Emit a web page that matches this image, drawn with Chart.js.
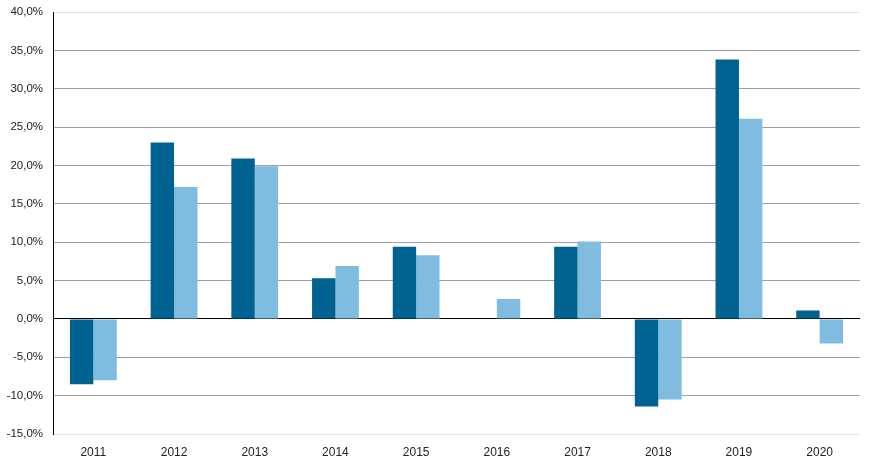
<!DOCTYPE html>
<html>
<head>
<meta charset="utf-8">
<script src="https://cdn.jsdelivr.net/npm/chart.js@4"></script>
<style>
html,body{margin:0;padding:0;background:#fff;}
#wrap{width:871px;height:463px;position:relative;}
</style>
</head>
<body>
<div id="wrap"><canvas id="c"></canvas></div>
<script>
const categories = ['2011','2012','2013','2014','2015','2016','2017','2018','2019','2020'];
const seriesA = [-8.5, 23.0, 20.9, 5.3, 9.4, 0.0, 9.4, -11.4, 33.8, 1.1];
const seriesB = [-8.0, 17.2, 19.9, 6.9, 8.3, 2.6, 10.1, -10.5, 26.1, -3.2];
const yTicks = [40, 35, 30, 25, 20, 15, 10, 5, 0, -5, -10, -15];

const fmt = v => v.toFixed(1).replace('.', ',') + '%';

new Chart(document.getElementById('c'), {
  type: 'bar',
  data: {
    labels: categories,
    datasets: [
      { label: 'A', data: seriesA, backgroundColor: '#006290', borderWidth: 0 },
      { label: 'B', data: seriesB, backgroundColor: '#80bbe0', borderWidth: 0 }
    ]
  },
  options: {
    responsive: true,
    maintainAspectRatio: false,
    animation: false,
    devicePixelRatio: 1,
    layout: { padding: { top: 12, right: 11, left: 0, bottom: 0 } },
    plugins: { legend: { display: false }, tooltip: { enabled: false } },
    datasets: { bar: { categoryPercentage: 0.58, barPercentage: 1.0 } },
    scales: {
      x: {
        grid: { display: false, drawTicks: false },
        border: { display: false },
        afterFit: s => { s.height = 29; },
        ticks: { color: '#222', font: { family: 'Liberation Sans', size: 12 }, padding: 11 }
      },
      y: {
        min: -15, max: 40,
        afterBuildTicks: s => { s.ticks = yTicks.map(v => ({ value: v })); },
        afterFit: s => { s.width = 53; s.paddingTop = 0; s.paddingBottom = 0; },
        border: { display: true, color: '#000', width: 1 },
        grid: {
          drawTicks: false,
          lineWidth: 1,
          color: ctx => {
            const v = ctx.tick && ctx.tick.value;
            if (v === 0) return '#000';
            if (v === 40 || v === -15) return '#e4e4e4';
            return '#a0a0a0';
          }
        },
        ticks: {
          color: '#222',
          font: { family: 'Liberation Sans', size: 11.5 },
          padding: 10,
          callback: v => fmt(v)
        }
      }
    }
  }
});
</script>
</body>
</html>
